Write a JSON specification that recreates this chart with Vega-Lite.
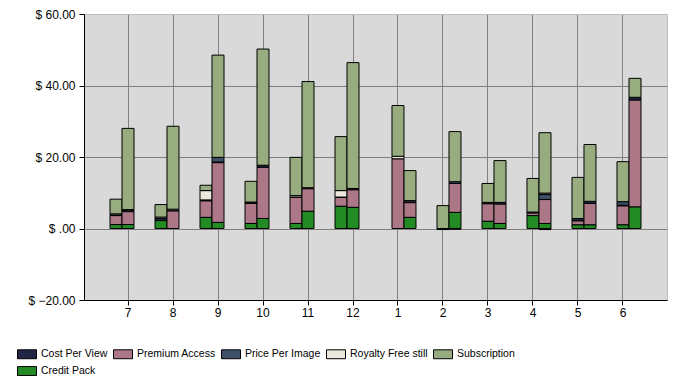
{
  "$schema": "https://vega.github.io/schema/vega-lite/v6.json",
  "width": 583,
  "height": 286,
  "autosize": {"type": "none"},
  "padding": {"left": 84, "top": 14, "right": 19, "bottom": 88},
  "background": "white",
  "config": {
    "font": "Liberation Sans",
    "view": {"fill": "#d9d9d9", "stroke": "#bdbdbd", "strokeWidth": 1}
  },
  "data": {
    "values": [
      {"month": "7", "year": "2010", "Credit Pack": 1.1, "Premium Access": 2.5, "Cost Per View": 0.2, "Price Per Image": 0, "Royalty Free still": 0.3, "Subscription": 4.1},
      {"month": "7", "year": "2011", "Credit Pack": 1.1, "Premium Access": 3.6, "Cost Per View": 0.3, "Price Per Image": 0, "Royalty Free still": 0.3, "Subscription": 22.7},
      {"month": "8", "year": "2010", "Credit Pack": 2.2, "Premium Access": 0, "Cost Per View": 0.6, "Price Per Image": 0, "Royalty Free still": 0.4, "Subscription": 3.5},
      {"month": "8", "year": "2011", "Credit Pack": 0, "Premium Access": 4.9, "Cost Per View": 0.1, "Price Per Image": 0, "Royalty Free still": 0.4, "Subscription": 23.2},
      {"month": "9", "year": "2010", "Credit Pack": 3.1, "Premium Access": 4.6, "Cost Per View": 0.3, "Price Per Image": 0, "Royalty Free still": 2.6, "Subscription": 1.5},
      {"month": "9", "year": "2011", "Credit Pack": 1.7, "Premium Access": 16.7, "Cost Per View": 0.2, "Price Per Image": 1.3, "Royalty Free still": 0, "Subscription": 28.6},
      {"month": "10", "year": "2010", "Credit Pack": 1.4, "Premium Access": 5.6, "Cost Per View": 0.4, "Price Per Image": 0, "Royalty Free still": 0, "Subscription": 5.8},
      {"month": "10", "year": "2011", "Credit Pack": 2.8, "Premium Access": 14.3, "Cost Per View": 0.6, "Price Per Image": 0, "Royalty Free still": 0, "Subscription": 32.5},
      {"month": "11", "year": "2010", "Credit Pack": 1.4, "Premium Access": 7.3, "Cost Per View": 0.1, "Price Per Image": 0, "Royalty Free still": 0.4, "Subscription": 10.7},
      {"month": "11", "year": "2011", "Credit Pack": 4.8, "Premium Access": 6.3, "Cost Per View": 0.3, "Price Per Image": 0, "Royalty Free still": 0, "Subscription": 29.7},
      {"month": "12", "year": "2010", "Credit Pack": 6.2, "Premium Access": 2.5, "Cost Per View": 0.1, "Price Per Image": 0, "Royalty Free still": 1.8, "Subscription": 15.1},
      {"month": "12", "year": "2011", "Credit Pack": 5.9, "Premium Access": 4.9, "Cost Per View": 0.4, "Price Per Image": 0, "Royalty Free still": 0, "Subscription": 35.2},
      {"month": "1", "year": "2011", "Credit Pack": 0, "Premium Access": 19.5, "Cost Per View": 0, "Price Per Image": 0, "Royalty Free still": 0.7, "Subscription": 14.2},
      {"month": "1", "year": "2012", "Credit Pack": 3.1, "Premium Access": 4.1, "Cost Per View": 0.6, "Price Per Image": 0, "Royalty Free still": 0, "Subscription": 8.4},
      {"month": "2", "year": "2011", "Credit Pack": 0, "Premium Access": 0, "Cost Per View": -0.3, "Price Per Image": 0, "Royalty Free still": 0, "Subscription": 6.4},
      {"month": "2", "year": "2012", "Credit Pack": 4.5, "Premium Access": 8.1, "Cost Per View": -0.2, "Price Per Image": 0.5, "Royalty Free still": 0, "Subscription": 14.0},
      {"month": "3", "year": "2011", "Credit Pack": 2.0, "Premium Access": 4.9, "Cost Per View": 0.4, "Price Per Image": 0, "Royalty Free still": 0, "Subscription": 5.3},
      {"month": "3", "year": "2012", "Credit Pack": 1.4, "Premium Access": 5.4, "Cost Per View": 0.5, "Price Per Image": 0, "Royalty Free still": 0, "Subscription": 11.7},
      {"month": "4", "year": "2011", "Credit Pack": 3.6, "Premium Access": 0.7, "Cost Per View": 0.3, "Price Per Image": 0, "Royalty Free still": 0, "Subscription": 9.4},
      {"month": "4", "year": "2012", "Credit Pack": 1.4, "Premium Access": 6.7, "Cost Per View": -0.3, "Price Per Image": 1.4, "Royalty Free still": 0.4, "Subscription": 16.9},
      {"month": "5", "year": "2011", "Credit Pack": 1.0, "Premium Access": 1.1, "Cost Per View": 0.7, "Price Per Image": 0, "Royalty Free still": 0, "Subscription": 11.5},
      {"month": "5", "year": "2012", "Credit Pack": 1.0, "Premium Access": 6.0, "Cost Per View": 0.6, "Price Per Image": 0, "Royalty Free still": 0, "Subscription": 15.9},
      {"month": "6", "year": "2011", "Credit Pack": 1.0, "Premium Access": 5.3, "Cost Per View": 0.2, "Price Per Image": 1.0, "Royalty Free still": 0, "Subscription": 11.2},
      {"month": "6", "year": "2012", "Credit Pack": 6.0, "Premium Access": 29.9, "Cost Per View": 0.8, "Price Per Image": 0, "Royalty Free still": 0, "Subscription": 5.3}
    ]
  },
  "transform": [
    {"fold": ["Cost Per View", "Premium Access", "Price Per Image", "Royalty Free still", "Subscription", "Credit Pack"], "as": ["product", "value"]},
    {"filter": "datum.value != 0"},
    {"calculate": "indexof(['Credit Pack','Premium Access','Cost Per View','Price Per Image','Royalty Free still','Subscription'], datum.product)", "as": "stackRank"}
  ],
  "mark": {"type": "bar", "stroke": "black", "strokeWidth": 1},
  "encoding": {
    "x": {
      "field": "month",
      "type": "ordinal",
      "sort": ["7", "8", "9", "10", "11", "12", "1", "2", "3", "4", "5", "6"],
      "scale": {"paddingInner": 0.2, "paddingOuter": 0.578},
      "axis": {
        "title": null,
        "labelAngle": 0,
        "grid": true,
        "gridColor": "#808080",
        "gridWidth": 1,
        "bandPosition": 0.5,
        "domainColor": "black",
        "tickColor": "black",
        "tickSize": 5,
        "labelFontSize": 12,
        "labelColor": "black",
        "labelPadding": 2
      }
    },
    "xOffset": {
      "field": "year",
      "type": "nominal",
      "scale": {"domain": ["2010", "2011", "2012"], "paddingInner": 0, "paddingOuter": 0}
    },
    "y": {
      "field": "value",
      "type": "quantitative",
      "stack": "zero",
      "scale": {"domain": [-20, 60], "nice": false, "zero": false},
      "axis": {
        "title": null,
        "values": [-20, 0, 20, 40, 60],
        "labelExpr": "'$ ' + (datum.value == 0 ? '.00' : format(datum.value, '.2f'))",
        "grid": true,
        "gridColor": {"condition": {"test": "datum.value == 60 || datum.value == -20", "value": "#bdbdbd"}, "value": "#808080"},
        "gridWidth": 1,
        "domainColor": "black",
        "tickColor": "black",
        "tickSize": 5,
        "labelFontSize": 12,
        "labelColor": "black",
        "labelPadding": 4
      }
    },
    "order": {"field": "stackRank", "type": "quantitative"},
    "color": {
      "field": "product",
      "type": "nominal",
      "scale": {
        "domain": ["Cost Per View", "Premium Access", "Price Per Image", "Royalty Free still", "Subscription", "Credit Pack"],
        "range": ["#222645", "#ac7787", "#3d5068", "#ebe9de", "#97ad80", "#238b23"]
      },
      "legend": {
        "title": null,
        "orient": "none",
        "legendX": -67,
        "legendY": 330,
        "direction": "horizontal",
        "columns": 5,
        "columnPadding": 3,
        "rowPadding": -7,
        "symbolType": "M-1,-0.47H1V0.47H-1Z",
        "symbolSize": 361,
        "symbolStrokeColor": "black",
        "symbolStrokeWidth": 1,
        "symbolOpacity": 1,
        "labelFontSize": 10.5,
        "labelColor": "black",
        "labelOffset": 4
      }
    }
  }
}
